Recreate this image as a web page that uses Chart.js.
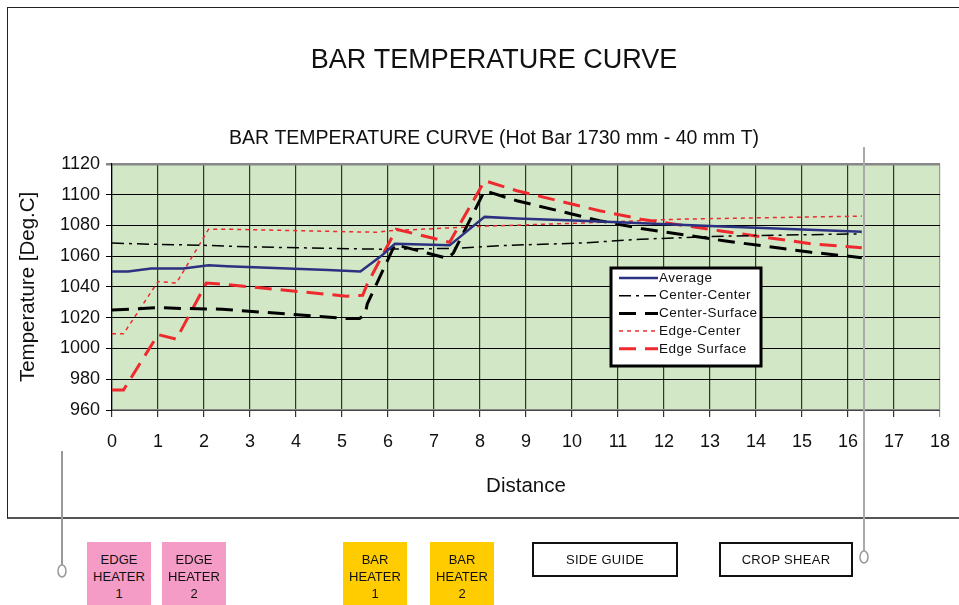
<!DOCTYPE html>
<html>
<head>
<meta charset="utf-8">
<script src="https://cdn.jsdelivr.net/npm/chart.js"></script>
<style>
  body { margin: 0; background: #fff; font-family: 'Liberation Sans', Arial, sans-serif; }
  #wrap { position: relative; width: 959px; height: 605px; overflow: hidden; }
  #frame { position: absolute; left: 7px; top: 7px; width: 980px; height: 509px; border: 1px solid #222; border-bottom: 2px solid #555; }
  canvas { position: absolute; left: 0; top: 0; }
  .box { position: absolute; top: 542px; height: 63px; font-size: 13px; line-height: 17px; text-align: center; color: #111; padding-top: 9px; box-sizing: border-box; }
  .pink { background: #F49CC6; }
  .yellow { background: #FFCC00; }
  .outline { position: absolute; top: 542px; height: 35px; border: 2px solid #111; box-sizing: border-box; font-size: 13px; line-height: 31px; text-align: center; letter-spacing: 0.3px; color: #111; }
  svg { position: absolute; left: 0; top: 0; }
</style>
</head>
<body>
<div id="wrap">
  <div id="frame"></div>
  <canvas id="grafico" width="959" height="605"></canvas>
  <div class="box pink" style="left:87px;width:64px;">EDGE<br>HEATER<br>1</div>
  <div class="box pink" style="left:162px;width:64px;">EDGE<br>HEATER<br>2</div>
  <div class="box yellow" style="left:343px;width:64px;">BAR<br>HEATER<br>1</div>
  <div class="box yellow" style="left:430px;width:64px;">BAR<br>HEATER<br>2</div>
  <div class="outline" style="left:532px;width:146px;">SIDE GUIDE</div>
  <div class="outline" style="left:719px;width:134px;">CROP SHEAR</div>
  <svg width="959" height="605">
    <line x1="62" y1="451" x2="62" y2="565" stroke="#999" stroke-width="2"/>
    <ellipse cx="62" cy="571" rx="4" ry="6" fill="none" stroke="#999" stroke-width="1.5"/>
    <line x1="864" y1="147" x2="864" y2="551" stroke="#aaa" stroke-width="2"/>
    <ellipse cx="864" cy="557" rx="4" ry="6" fill="none" stroke="#999" stroke-width="1.5"/>
  </svg>
</div>
<script>
// distance (x) and temperature (y)
let avgX = [0, 0.35, 0.85, 1.55, 2.1, 2.5, 4.7, 5.4, 5.85, 6.15, 7.34, 8.1, 8.8, 10.2, 13, 16.3];
let avgY = [1050, 1050, 1052, 1052, 1054, 1053.5, 1051, 1050, 1060, 1068, 1067, 1085.5, 1084.5, 1083, 1079.5, 1075.8];

let ccX = [0, 0.5, 2, 3, 5.8, 7.4, 8.6, 10.2, 11.5, 13.3, 16.3];
let ccY = [1068.5, 1068, 1067, 1066, 1064.5, 1065, 1067, 1068.5, 1071, 1073, 1074.5];

let csX = [0, 1, 1.5, 2.4, 5.1, 5.38, 5.5, 5.55, 6.15, 7.3, 7.42, 8.1, 8.8, 9.7, 10.6, 11.5, 13.3, 15.2, 16.3];
let csY = [1025, 1026.5, 1026, 1025.5, 1019.5, 1019.5, 1022, 1029, 1067.5, 1058.5, 1062, 1102.5, 1096, 1089.5, 1083, 1078, 1070, 1062.5, 1059];

let ecX = [0, 0.25, 1, 1.4, 2.1, 2.5, 5.75, 6.05, 8.15, 10.2, 12.3, 16.3];
let ecY = [1009.5, 1009.5, 1043.5, 1042.5, 1077.5, 1077.5, 1075.5, 1076.5, 1079.5, 1081.5, 1084, 1086];

let esX = [0, 0.25, 1, 1.4, 2.05, 2.5, 5.1, 5.45, 5.55, 6.18, 7.34, 8.1, 8.8, 10.6, 11.5, 13.2, 15.2, 16.3];
let esY = [973, 973, 1009, 1006, 1042.5, 1041.5, 1034, 1034.5, 1042, 1077.5, 1069, 1109, 1102.5, 1089.5, 1084, 1076.5, 1068, 1065.5];

let xTicks = ['0', '1', '2', '3', '4', '5', '6', '7', '8', '9', '10', '11', '12', '13', '14', '15', '16', '17', '18'];
let yTicks = [960, 980, 1000, 1020, 1040, 1060, 1080, 1100, 1120];

function pontos(xs, ys) {
    return xs.map((x, i) => ({ x: x, y: ys[i] }));
}

const fonte = "'Liberation Sans', Arial, sans-serif";

// green plot background + boxed legend inside the plot
const fundo = {
    id: 'fundo',
    beforeDraw(chart) {
        const { ctx, chartArea: a } = chart;
        ctx.save();
        ctx.fillStyle = '#D1E7C6';
        ctx.fillRect(a.left, a.top, a.right - a.left, a.bottom - a.top);
        ctx.restore();
    },
    afterDatasetsDraw(chart) {
        const ctx = chart.ctx;
        const x0 = 611, y0 = 268, w = 150, h = 98;
        ctx.save();
        ctx.fillStyle = '#fff';
        ctx.fillRect(x0, y0, w, h);
        ctx.lineWidth = 3;
        ctx.strokeStyle = '#000';
        ctx.strokeRect(x0, y0, w, h);
        ctx.font = '13.5px ' + fonte;
        ctx.textBaseline = 'middle';
        ctx.fillStyle = '#111';
        chart.data.datasets.forEach((ds, i) => {
            const y = 278 + i * 17.7;
            ctx.beginPath();
            ctx.setLineDash(ds.borderDash || []);
            ctx.lineWidth = ds.borderWidth;
            ctx.strokeStyle = ds.borderColor;
            ctx.moveTo(619, y);
            ctx.lineTo(658, y);
            ctx.stroke();
            ctx.setLineDash([]);
            ctx.letterSpacing = '0.5px';
            ctx.fillText(ds.label, 659, y);
        });
        ctx.restore();
    }
};

let grafico = document.getElementById('grafico').getContext('2d');

let chart = new Chart(grafico, {
    type: 'line',
    data: {
        datasets: [{
                label: 'Average',
                data: pontos(avgX, avgY),
                borderColor: '#2B3080',
                borderWidth: 2.5
            },
            {
                label: 'Center-Center',
                data: pontos(ccX, ccY),
                borderColor: '#000000',
                borderWidth: 1.5,
                borderDash: [12, 5, 3, 5]
            },
            {
                label: 'Center-Surface',
                data: pontos(csX, csY),
                borderColor: '#000000',
                borderWidth: 3,
                borderDash: [17, 9]
            },
            {
                label: 'Edge-Center',
                data: pontos(ecX, ecY),
                borderColor: '#EE2A2F',
                borderWidth: 1.5,
                borderDash: [4, 4]
            },
            {
                label: 'Edge Surface',
                data: pontos(esX, esY),
                borderColor: '#EE2A2F',
                borderWidth: 3,
                borderDash: [17, 9]
            }
        ]
    },
    options: {
        responsive: false,
        animation: false,
        elements: { point: { radius: 0 }, line: { tension: 0 } },
        layout: { padding: { left: 48, right: 19, top: 0, bottom: 100 } },
        plugins: {
            legend: { display: false },
            tooltip: { enabled: false },
            title: {
                display: true,
                text: 'BAR TEMPERATURE CURVE',
                color: '#111',
                font: { family: fonte, size: 27, weight: 'normal' },
                padding: { top: 44, bottom: 51 }
            },
            subtitle: {
                display: true,
                text: 'BAR TEMPERATURE CURVE (Hot Bar 1730 mm - 40 mm T)',
                color: '#111',
                font: { family: fonte, size: 19.5, weight: 'normal' },
                padding: { top: 0, bottom: 13 }
            }
        },
        scales: {
            x: {
                type: 'linear',
                min: 0,
                max: 18,
                afterFit: (s) => { s.height = 95; s.paddingLeft = 0; s.paddingRight = 0; },
                afterBuildTicks: (s) => { s.ticks = xTicks.map(v => ({ value: Number(v) })); },
                ticks: {
                    color: '#111',
                    padding: 14,
                    font: { family: fonte, size: 18 }
                },
                grid: {
                    color: (c) => c.tick && c.tick.value === 18 ? '#999' : '#333',
                    lineWidth: 1.2,
                    tickLength: 7
                },
                border: { color: '#888', width: 1.5 },
                title: {
                    display: true,
                    text: 'Distance',
                    color: '#111',
                    font: { family: fonte, size: 20.5 },
                    padding: { top: 0, bottom: 6 }
                }
            },
            y: {
                min: 960,
                max: 1120,
                afterFit: (s) => { s.width = 64; },
                afterBuildTicks: (s) => { s.ticks = yTicks.map(v => ({ value: v })); },
                ticks: {
                    color: '#111',
                    padding: 6,
                    font: { family: fonte, size: 18 },
                    callback: (v) => String(v)
                },
                grid: {
                    color: (c) => c.tick && c.tick.value === 1120 ? '#888' : '#000',
                    lineWidth: (c) => c.tick && c.tick.value === 1120 ? 2.5 : 1,
                    tickLength: 6
                },
                border: { color: '#000', width: 1.2 },
                title: {
                    display: true,
                    text: 'Temperature [Deg.C]',
                    color: '#111',
                    font: { family: fonte, size: 20.5 },
                    padding: { top: -32, bottom: 0 }
                }
            }
        }
    },
    plugins: [fundo]
});
</script>
</body>
</html>
